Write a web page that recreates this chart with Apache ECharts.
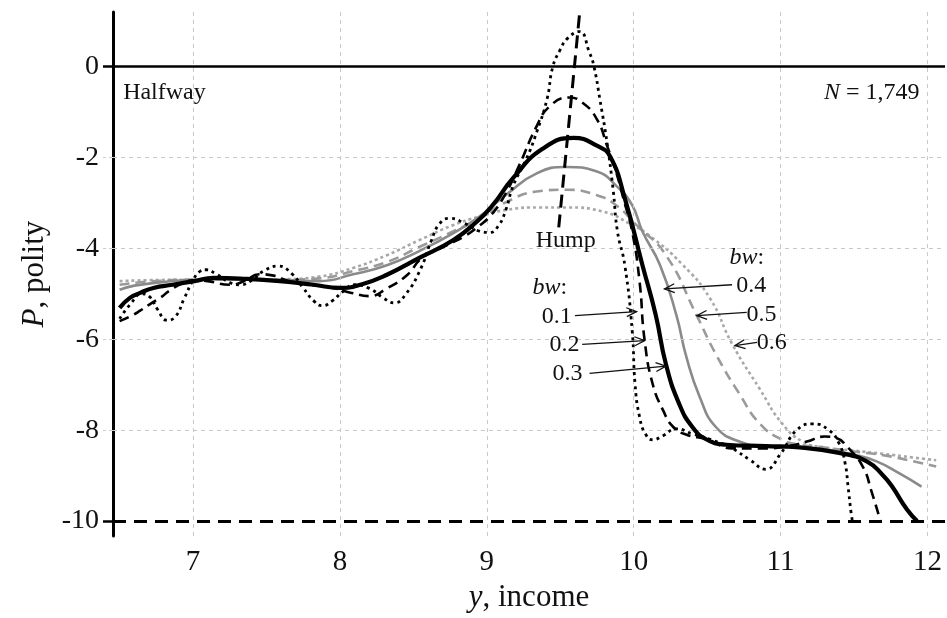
<!DOCTYPE html>
<html>
<head>
<meta charset="utf-8">
<script src="https://cdn.jsdelivr.net/npm/echarts@6/dist/echarts.min.js"></script>
<style>
html,body{margin:0;padding:0;background:#fff}
#chart{width:947px;height:618px}
</style>
</head>
<body>
<div id="chart"></div>
<script>
// tick labels
var xTicks = [7, 8, 9, 10, 11, 12];
var yTicks = [0, -2, -4, -6, -8, -10];

// bandwidth curves, [y income, P polity]
var bw01 = [[6.5,-5.55],[6.58,-5.2],[6.65,-5.0],[6.7,-5.05],[6.76,-5.35],[6.82,-5.58],[6.88,-5.5],[6.94,-5.1],[7.0,-4.7],[7.05,-4.5],[7.09,-4.47],[7.15,-4.55],[7.25,-4.75],[7.32,-4.8],[7.4,-4.7],[7.48,-4.5],[7.58,-4.39],[7.67,-4.55],[7.75,-4.87],[7.82,-5.15],[7.88,-5.26],[7.95,-5.15],[8.02,-4.95],[8.1,-4.8],[8.2,-4.88],[8.3,-5.1],[8.37,-5.2],[8.45,-5.0],[8.55,-4.45],[8.62,-3.85],[8.68,-3.45],[8.75,-3.34],[8.85,-3.45],[8.95,-3.62],[9.02,-3.65],[9.08,-3.5],[9.13,-3.15],[9.18,-2.62],[9.27,-2.03],[9.34,-1.44],[9.41,-0.72],[9.45,0],[9.5,0.37],[9.55,0.62],[9.63,0.77],[9.7,0.3],[9.73,0],[9.77,-0.72],[9.82,-1.7],[9.86,-2.7],[9.89,-3.63],[9.94,-4.37],[9.99,-5.81],[10.01,-7.0],[10.04,-7.7],[10.08,-8.08],[10.13,-8.21],[10.2,-8.12],[10.29,-7.97],[10.4,-8.08],[10.52,-8.2],[10.67,-8.4],[10.79,-8.65],[10.9,-8.86],[11.0,-8.52],[11.11,-8.0],[11.22,-7.86],[11.33,-8.0],[11.4,-8.3],[11.44,-8.73],[11.46,-9.24],[11.48,-9.8],[11.49,-10]];
var bw02 = [[6.5,-5.6],[6.57,-5.5],[6.64,-5.37],[6.71,-5.22],[6.78,-5.08],[6.84,-4.93],[6.92,-4.78],[7.0,-4.7],[7.1,-4.72],[7.25,-4.8],[7.35,-4.72],[7.45,-4.57],[7.55,-4.6],[7.65,-4.72],[7.8,-4.8],[7.95,-4.87],[8.08,-4.98],[8.2,-5.05],[8.32,-4.88],[8.46,-4.58],[8.56,-4.21],[8.73,-3.93],[8.86,-3.71],[8.95,-3.5],[9.02,-3.3],[9.11,-2.9],[9.22,-2.18],[9.34,-1.31],[9.43,-0.87],[9.56,-0.68],[9.65,-0.79],[9.75,-1.16],[9.82,-1.75],[9.88,-2.31],[9.93,-2.9],[9.99,-3.63],[10.04,-4.72],[10.075,-6.03],[10.13,-6.99],[10.2,-7.56],[10.27,-7.93],[10.36,-8.1],[10.5,-8.2],[10.67,-8.4],[10.9,-8.4],[11.05,-8.35],[11.18,-8.25],[11.3,-8.14],[11.38,-8.17],[11.45,-8.35],[11.56,-8.8],[11.62,-9.35],[11.68,-10]];
var bw03 = [[6.5,-5.31],[6.57,-5.09],[6.64,-4.98],[6.73,-4.87],[6.86,-4.8],[7.01,-4.72],[7.14,-4.65],[7.36,-4.67],[7.59,-4.72],[7.82,-4.8],[8.0,-4.87],[8.14,-4.8],[8.32,-4.58],[8.54,-4.21],[8.77,-3.82],[8.93,-3.42],[9.04,-3.05],[9.18,-2.45],[9.38,-1.81],[9.59,-1.57],[9.75,-1.74],[9.84,-1.98],[9.94,-2.9],[10.06,-4.37],[10.15,-5.46],[10.22,-6.55],[10.31,-7.42],[10.4,-7.93],[10.5,-8.21],[10.63,-8.32],[10.9,-8.35],[11.13,-8.38],[11.4,-8.5],[11.59,-8.69],[11.7,-9.0],[11.76,-9.24],[11.86,-9.74],[11.93,-10.0]];
var bw04 = [[6.5,-4.91],[6.6,-4.82],[6.8,-4.74],[7.0,-4.69],[7.3,-4.68],[7.6,-4.69],[7.86,-4.72],[8.09,-4.57],[8.32,-4.37],[8.54,-4.06],[8.77,-3.67],[8.95,-3.3],[9.14,-2.8],[9.34,-2.35],[9.54,-2.21],[9.75,-2.31],[9.88,-2.62],[9.99,-3.05],[10.06,-3.63],[10.18,-4.37],[10.29,-5.46],[10.36,-6.4],[10.45,-7.27],[10.56,-7.93],[10.72,-8.25],[10.9,-8.36],[11.1,-8.38],[11.3,-8.42],[11.5,-8.54],[11.65,-8.68],[11.81,-8.95],[11.96,-9.24]];
var bw05 = [[6.5,-4.8],[6.7,-4.73],[7.0,-4.69],[7.3,-4.69],[7.6,-4.69],[7.86,-4.66],[8.09,-4.5],[8.32,-4.3],[8.54,-3.97],[8.77,-3.63],[8.95,-3.35],[9.14,-2.97],[9.34,-2.75],[9.54,-2.71],[9.75,-2.83],[9.88,-3.05],[10.02,-3.49],[10.22,-4.15],[10.43,-5.48],[10.56,-6.33],[10.72,-7.2],[10.86,-7.86],[11.01,-8.21],[11.13,-8.32],[11.3,-8.38],[11.5,-8.47],[11.7,-8.55],[11.9,-8.68],[12.06,-8.8]];
var bw06 = [[6.5,-4.72],[6.7,-4.7],[7.0,-4.69],[7.3,-4.69],[7.6,-4.68],[7.86,-4.62],[8.09,-4.43],[8.32,-4.15],[8.54,-3.82],[8.77,-3.49],[8.95,-3.3],[9.14,-3.15],[9.35,-3.1],[9.55,-3.1],[9.79,-3.19],[9.97,-3.45],[10.1,-3.7],[10.33,-4.35],[10.52,-5.1],[10.67,-6.1],[10.86,-7.1],[11.01,-7.85],[11.15,-8.25],[11.3,-8.38],[11.5,-8.45],[11.7,-8.52],[11.9,-8.6],[12.06,-8.66]];

// the hump line and the two reference levels
var humpLine = [[9.49,-3.54],[9.633,1.2]];
var halfwayLevel = 0;
var floorLevel = -10;

// arrows [fromX, fromY, toX, toY]
var arrows = [
  [9.60,-5.48,10.02,-5.39],
  [9.65,-6.11,10.075,-6.03],
  [9.70,-6.75,10.22,-6.59],
  [10.67,-4.80,10.21,-4.89],
  [10.77,-5.41,10.43,-5.48],
  [10.84,-6.07,10.69,-6.14]
];

// text notes [text, x, y, align]
var notes = [
  ['Halfway', 6.524, -0.57, 'left'],
  ['{i|N} = 1,749', 11.946, -0.57, 'right'],
  ['Hump', 9.537, -3.84, 'center'],
  ['{i|bw}:', 9.43, -4.87, 'center'],
  ['0.1', 9.476, -5.50, 'center'],
  ['0.2', 9.53, -6.11, 'center'],
  ['0.3', 9.55, -6.75, 'center'],
  ['{i|bw}:', 10.77, -4.21, 'center'],
  ['0.4', 10.80, -4.83, 'center'],
  ['0.5', 10.87, -5.46, 'center'],
  ['0.6', 10.94, -6.07, 'center']
];

var serif = '"Liberation Serif", "DejaVu Serif", serif';

var chart = echarts.init(document.getElementById('chart'));

function curve(name, data, color, width, type, z) {
  return {
    name: name,
    type: 'line',
    data: data,
    showSymbol: false,
    smooth: 0.5,
    z: z,
    lineStyle: { color: color, width: width, type: type, cap: 'butt', join: 'round' }
  };
}

var grey = { color: '#c8c8c8', width: 1, type: [4, 4] };
var gridLines = [];
xTicks.forEach(function (v) { gridLines.push({ xAxis: v, lineStyle: grey }); });
yTicks.forEach(function (v) {
  if (v !== halfwayLevel && v !== floorLevel) gridLines.push({ yAxis: v, lineStyle: grey });
});
gridLines.push({ yAxis: halfwayLevel, lineStyle: { color: '#000', width: 2.5, type: 'solid' } });
gridLines.push({ yAxis: floorLevel, lineStyle: { color: '#000', width: 3, type: [13, 8] } });

var option = {
  animation: false,
  backgroundColor: '#fff',
  grid: { left: 113, right: 2, top: 12, bottom: 78 },
  xAxis: {
    type: 'value',
    min: 6.455,
    max: 12.12,
    axisLine: { show: false },
    axisTick: { customValues: xTicks, length: 5, lineStyle: { color: '#bbb' } },
    axisLabel: { customValues: xTicks, fontSize: 29, fontFamily: serif, color: '#111', margin: 12 },
    splitLine: { show: false },
    name: '{i|y}, income',
    nameLocation: 'middle',
    nameGap: 44,
    nameTextStyle: {
      fontSize: 31, fontFamily: serif, color: '#111',
      rich: { i: { fontStyle: 'italic', fontSize: 31, fontFamily: serif, color: '#111' } }
    }
  },
  yAxis: [{
    type: 'value',
    min: -10.33,
    max: 1.2,
    axisLine: { show: true, lineStyle: { color: '#000', width: 3 } },
    axisTick: { customValues: [-8, -6, -4, -2], length: 10, lineStyle: { color: '#ccc', type: [4, 3] } },
    axisLabel: { customValues: yTicks, fontSize: 28, fontFamily: serif, color: '#111', margin: 14 },
    splitLine: { show: false },
    name: '{i|P}, polity',
    nameLocation: 'middle',
    nameGap: 58,
    nameTextStyle: {
      fontSize: 31, fontFamily: serif, color: '#111',
      rich: { i: { fontStyle: 'italic', fontSize: 31, fontFamily: serif, color: '#111' } }
    }
  }, {
    type: 'value',
    min: -10.33,
    max: 1.2,
    position: 'left',
    axisLine: { show: false },
    axisTick: { customValues: [halfwayLevel, floorLevel], length: 10, lineStyle: { color: '#000', width: 2.5 } },
    axisLabel: { show: false },
    splitLine: { show: false }
  }],
  series: [
    {
      type: 'line',
      data: [],
      z: 1,
      silent: true,
      markLine: { silent: true, symbol: ['none', 'none'], label: { show: false }, data: gridLines }
    },
    curve('0.6', bw06, '#a8a8a8', 2.6, [3, 3], 2),
    curve('0.5', bw05, '#9a9a9a', 2.6, [10, 6], 3),
    curve('0.4', bw04, '#8a8a8a', 2.6, 'solid', 4),
    curve('0.1', bw01, '#000', 2.8, [3, 4], 5),
    curve('0.2', bw02, '#000', 2.6, [10, 6], 6),
    curve('0.3', bw03, '#000', 4.2, 'solid', 7),
    {
      name: 'Hump',
      type: 'line',
      data: humpLine,
      showSymbol: false,
      z: 8,
      lineStyle: { color: '#000', width: 3, type: [13, 7] }
    },
    {
      type: 'custom',
      data: arrows,
      z: 9,
      silent: true,
      encode: { x: [0, 2], y: [1, 3] },
      renderItem: function (params, api) {
        var p1 = api.coord([api.value(0), api.value(1)]);
        var p2 = api.coord([api.value(2), api.value(3)]);
        var ang = Math.atan2(p1[1] - p2[1], p1[0] - p2[0]);
        var h = 11, a = 0.42;
        var h1 = [p2[0] + h * Math.cos(ang + a), p2[1] + h * Math.sin(ang + a)];
        var h2 = [p2[0] + h * Math.cos(ang - a), p2[1] + h * Math.sin(ang - a)];
        return {
          type: 'group',
          children: [
            { type: 'line', shape: { x1: p1[0], y1: p1[1], x2: p2[0], y2: p2[1] }, style: { stroke: '#111', lineWidth: 1.3 } },
            { type: 'polyline', shape: { points: [h1, p2, h2] }, style: { stroke: '#111', lineWidth: 1.3, fill: null } }
          ]
        };
      }
    },
    {
      type: 'scatter',
      symbolSize: 0,
      z: 10,
      silent: true,
      itemStyle: { opacity: 1, color: 'transparent' },
      data: notes.map(function (n) {
        return { value: [n[1], n[2]], label: { formatter: n[0], align: n[3] } };
      }),
      label: {
        show: true,
        position: 'inside',
        verticalAlign: 'middle',
        fontSize: 24,
        fontFamily: serif,
        color: '#111',
        opacity: 1,
        rich: { i: { fontStyle: 'italic', fontSize: 24, fontFamily: serif, color: '#111' } }
      }
    }
  ]
};

chart.setOption(option);
</script>
</body>
</html>
